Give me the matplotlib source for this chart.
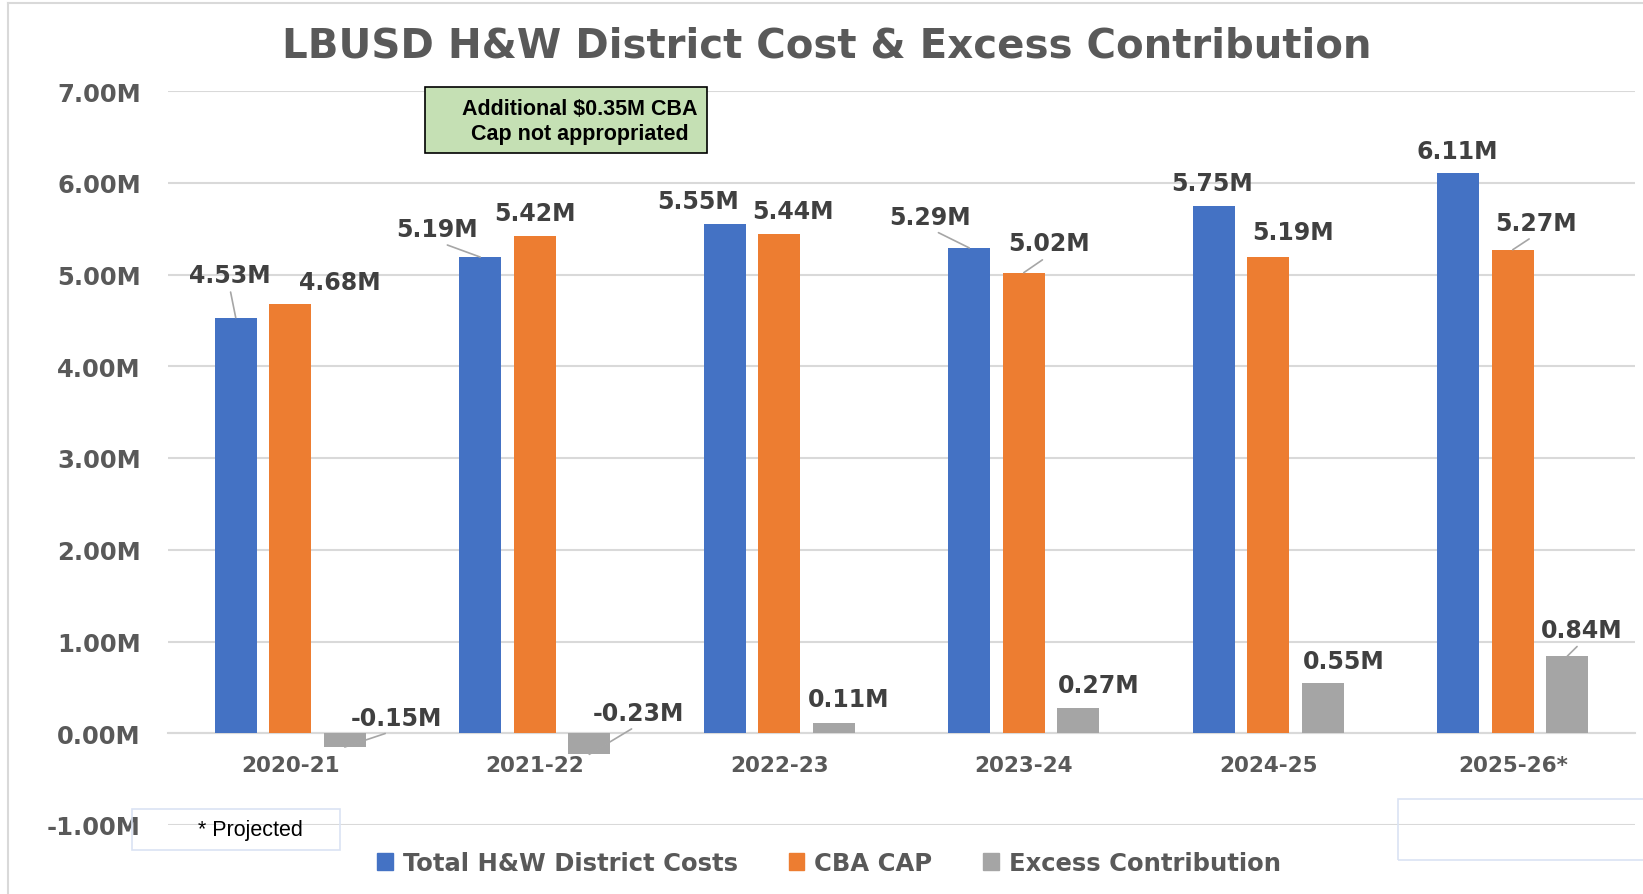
import matplotlib
matplotlib.use("Agg")
import matplotlib.pyplot as plt
import matplotlib.patches as mpatches
import matplotlib.lines as mlines
import numpy as np

years = ["2020-21", "2021-22", "2022-23", "2023-24", "2024-25", "2025-26*"]
series_names = ["Total H&W District Costs", "CBA CAP", "Excess Contribution"]
district_costs = [4.53, 5.19, 5.55, 5.29, 5.75, 6.11]
cba_cap = [4.68, 5.42, 5.44, 5.02, 5.19, 5.27]
excess = [-0.15, -0.23, 0.11, 0.27, 0.55, 0.84]
y_ticks = [-1, 0, 1, 2, 3, 4, 5, 6, 7]
title = "LBUSD H&W District Cost & Excess Contribution"
note_text = "Additional $0.35M CBA\nCap not appropriated"
footnote = "* Projected"

colors = ["#4472c4", "#ed7d31", "#a5a5a5"]
text_gray = "#595959"
label_gray = "#404040"
grid_gray = "#d9d9d9"
leader_gray = "#a6a6a6"

# label offsets (points) from the end of each bar, per series, and leader flags
label_offsets = [
    [(-4.5, 31), (-31, 20), (-19, 16.5), (-28, 22.5), (-1, 16.5), (-1, 15.5)],
    [(35.5, 16), (0, 16.5), (10, 16.5), (18, 21), (18, 18), (16.5, 19.5)],
    [(37, 21), (35.5, 30), (11, 17.5), (15, 17), (15, 16), (10.5, 19)],
]
leaders = [
    [True, True, False, True, False, False],
    [False, False, False, True, False, True],
    [True, True, False, False, False, True],
]

plt.rcParams["font.family"] = ["DejaVu Sans"]
arial = ["Liberation Sans", "DejaVu Sans"]

fig = plt.figure(figsize=(16.43, 8.95), dpi=100)
ax = fig.add_axes([168 / 1643, 69 / 895, 1467 / 1643, 734 / 895])

x = np.arange(len(years))
width = 0.172
step = 0.223
all_series = [district_costs, cba_cap, excess]
for i, vals in enumerate(all_series):
    xs = x + (i - 1) * step
    ax.bar(xs, vals, width=width, color=colors[i], label=series_names[i], zorder=3)
    for j, v in enumerate(vals):
        arrow = None
        if leaders[i][j]:
            arrow = dict(arrowstyle="-", color=leader_gray, lw=1.2, shrinkA=2, shrinkB=0,
                         relpos=(0.5, 0))
        ax.annotate(f"{v:.2f}M", xy=(xs[j], v), xytext=label_offsets[i][j],
                    textcoords="offset points", ha="center", va="center",
                    fontsize=17, fontweight="bold", color=label_gray,
                    arrowprops=arrow, zorder=4)

ax.set_xlim(-0.5, len(years) - 0.5)
ax.set_ylim(-1, 7)
ax.set_yticks(y_ticks)
ax.set_yticklabels([f"{t:.2f}M" for t in y_ticks])
ax.set_xticks(x)
ax.set_xticklabels(years)
ax.grid(axis="y", color=grid_gray, lw=1.5, zorder=0)
ax.set_axisbelow(True)
for s in ["top", "right", "left"]:
    ax.spines[s].set_visible(False)
ax.spines["bottom"].set_position(("data", 0))
ax.spines["bottom"].set_color(grid_gray)
ax.spines["bottom"].set_linewidth(1.5)
ax.tick_params(axis="x", length=0, pad=16, labelsize=15.5, labelcolor=text_gray)
ax.tick_params(axis="y", length=0, pad=19.5, labelsize=17.5, labelcolor=text_gray)
for lab in ax.get_xticklabels() + ax.get_yticklabels():
    lab.set_fontweight("bold")

fig.text(0.503, 1 - 47 / 895, title, ha="center", va="center",
         fontsize=29, fontweight="bold", color=text_gray)

# note box
fig.add_artist(mpatches.Rectangle((425 / 1643, 1 - 154 / 895), 282 / 1643, 66 / 895,
                                  transform=fig.transFigure, facecolor="#c5e0b4",
                                  edgecolor="black", lw=1.2))
fig.text(580 / 1643, 1 - 122 / 895, note_text, ha="center", va="center",
         fontsize=15.5, fontweight="bold", family=arial, color="black", linespacing=1.3)

# footnote box and empty box
fig.add_artist(mpatches.Rectangle((132 / 1643, 1 - 851 / 895), 208 / 1643, 41 / 895,
                                  transform=fig.transFigure, facecolor="none",
                                  edgecolor="#dae3f3", lw=1.2, zorder=5))
fig.text(250 / 1643, 1 - 831 / 895, footnote, ha="center", va="center",
         fontsize=15.5, family=arial, color="black", zorder=6)
fig.add_artist(mpatches.Rectangle((1398 / 1643, 1 - 861 / 895), 260 / 1643, 61 / 895,
                                  transform=fig.transFigure, facecolor="none",
                                  edgecolor="#dae3f3", lw=1.2, zorder=5))

# outer chart border (top & left)
fig.add_artist(mlines.Line2D([8 / 1643, 1], [1 - 4 / 895, 1 - 4 / 895], color=grid_gray, lw=1.5))
fig.add_artist(mlines.Line2D([8 / 1643, 8 / 1643], [0, 1 - 4 / 895], color=grid_gray, lw=1.5))

handles = [mpatches.Patch(color=colors[i], label=series_names[i]) for i in range(3)]
leg = fig.legend(handles=handles, loc="center", bbox_to_anchor=(829 / 1643, 1 - 864 / 895),
                 ncol=3, frameon=False, fontsize=17.5, handlelength=0.65, handleheight=0.65,
                 handletextpad=0.4, columnspacing=2.1)
for t in leg.get_texts():
    t.set_color(text_gray)
    t.set_fontweight("bold")

fig.savefig("out.png", dpi=100)
